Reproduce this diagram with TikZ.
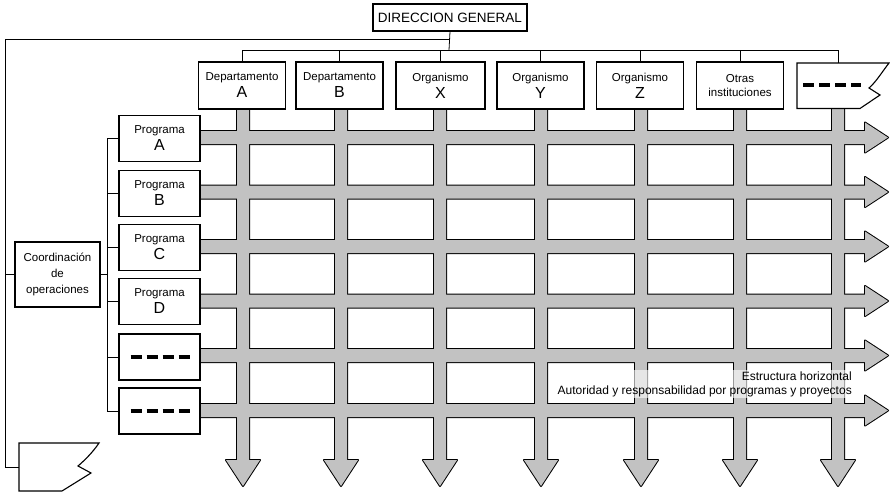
\documentclass[tikz,border=0pt]{standalone}
\usepackage{fontspec}
\setmainfont{Liberation Sans}
\begin{document}
\begin{tikzpicture}[x=1pt,y=-1pt,
  box/.style={draw, line width=1.1pt, fill=white, inner sep=0pt, align=center},
  colbox/.style={box, minimum width=87pt, minimum height=47pt, font=\fontsize{11.5}{17}\selectfont},
  progbox/.style={box, minimum width=81pt, minimum height=46pt, font=\fontsize{11.5}{17}\selectfont},
  conn/.style={line width=0.8pt},
  dashbar/.style={line width=3.2pt, dash pattern=on 11pt off 5pt},
  bandedge/.style={draw=black, fill=black, line width=2pt, line join=round},
  bandfill/.style={fill=black!24},
]
\useasboundingbox (0,0) rectangle (890,492);

% ---- bands: outline pass ----
\foreach \r in {137.5,192,246.5,301,355.5,410.5}{
  \path[bandedge] (200,\r-6.5) -- (865,\r-6.5) -- (865,\r-15) -- (888,\r) -- (865,\r+15) -- (865,\r+6.5) -- (200,\r+6.5) -- cycle;
}
\foreach \c in {243,341,440,541,641,740,838}{
  \path[bandedge] (\c-6,105) -- (\c-6,460) -- (\c-17,460) -- (\c,486) -- (\c+17,460) -- (\c+6,460) -- (\c+6,105) -- cycle;
}
% ---- bands: fill pass ----
\foreach \r in {137.5,192,246.5,301,355.5,410.5}{
  \path[bandfill] (200,\r-6.5) -- (865,\r-6.5) -- (865,\r-15) -- (888,\r) -- (865,\r+15) -- (865,\r+6.5) -- (200,\r+6.5) -- cycle;
}
\foreach \c in {243,341,440,541,641,740,838}{
  \path[bandfill] (\c-6,105) -- (\c-6,460) -- (\c-17,460) -- (\c,486) -- (\c+17,460) -- (\c+6,460) -- (\c+6,105) -- cycle;
}

% ---- top ----
\node[box, minimum width=154pt, minimum height=27pt, font=\fontsize{13.5}{16}\selectfont] (dg) at (450,17.5) {DIRECCION GENERAL};

\node[colbox] (cA) at (242,85.5) {Departamento\\{\fontsize{16}{16}\selectfont A}};
\node[colbox] (cB) at (339.5,85.5) {Departamento\\{\fontsize{16}{16}\selectfont B}};
\node[colbox, minimum width=89pt] (cX) at (440.5,85.5) {Organismo\\{\fontsize{16}{16}\selectfont X}};
\node[colbox] (cY) at (540.5,85.5) {Organismo\\{\fontsize{16}{16}\selectfont Y}};
\node[colbox] (cZ) at (640,85.5) {Organismo\\{\fontsize{16}{16}\selectfont Z}};
\node[colbox, font=\fontsize{11.5}{14}\selectfont] (cO) at (740,85.5) {Otras\\instituciones};
% jagged box top right
\draw[line width=1.1pt, fill=white] (797,63) -- (889,63) .. controls (882,72) and (876,82) .. (869,88) -- (880,95) -- (860,108.5) -- (797,108.5) -- cycle;
\coordinate (cL) at (838,63);
\coordinate (cLdash) at (803,85);
\draw[dashbar] (cLdash) -- ++(58,0);

% ---- rows ----
\node[progbox] (pA) at (159.5,138.5) {Programa\\{\fontsize{16}{16}\selectfont A}};
\node[progbox] (pB) at (159.5,193.5) {Programa\\{\fontsize{16}{16}\selectfont B}};
\node[progbox] (pC) at (159.5,247.5) {Programa\\{\fontsize{16}{16}\selectfont C}};
\node[progbox] (pD) at (159.5,301.5) {Programa\\{\fontsize{16}{16}\selectfont D}};
\node[progbox] (pE) at (159.5,357) {};
\node[progbox] (pF) at (159.5,411) {};
\draw[dashbar] ([xshift=-29pt]pE.center) -- ([xshift=31pt]pE.center);
\draw[dashbar] ([xshift=-29pt]pF.center) -- ([xshift=31pt]pF.center);

\node[box, minimum width=85pt, minimum height=65pt, font=\fontsize{11.5}{16}\selectfont] (co) at (57.5,274.5) {Coordinación\\de\\operaciones};

% bottom-left jagged box
\draw[line width=1.1pt, fill=white] (19,443) -- (99,443) .. controls (93,452) and (85,460) .. (78,466) -- (91,473) -- (62,491) -- (19,491) -- cycle;
\coordinate (ob) at (19,467);

% ---- connectors ----
\coordinate (topbus) at (449,50);
\coordinate (corner) at (5,39);
\coordinate (pbus) at (107,274);
\draw[conn] (dg.south) -- (topbus);
\draw[conn] (cA.north |- topbus) -- (cL |- topbus);
\foreach \n in {cA,cB,cX,cY,cZ,cO}{ \draw[conn] (\n.north) -- (\n.north |- topbus); }
\draw[conn] (cL) -- (cL |- topbus);
\draw[conn] (dg.south |- corner) -- (corner) |- (ob);
\draw[conn] (co.west) -- (co.west -| corner);
\draw[conn] (co.east) -- (co.east -| pbus);
\draw[conn] (pA.west -| pbus) -- (pF.west -| pbus);
\foreach \n in {pA,pB,pC,pD,pE,pF}{ \draw[conn] (\n.west) -- (\n.west -| pbus); }

% ---- note ----
\node[anchor=east, align=right, fill=white, fill opacity=0.6, text opacity=1, inner sep=1pt, font=\fontsize{12}{14}\selectfont] (note) at (853,384) {Estructura horizontal\\Autoridad y responsabilidad por programas y proyectos};
\end{tikzpicture}
\end{document}
